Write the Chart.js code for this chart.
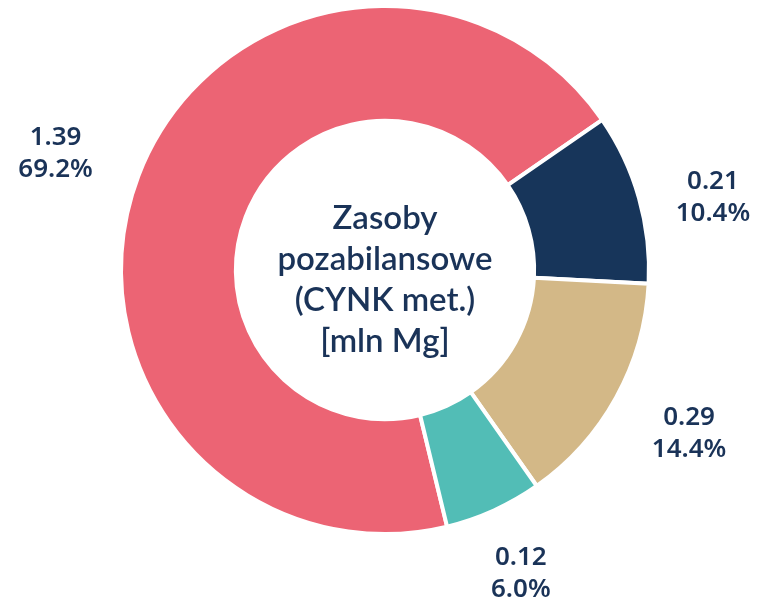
<!DOCTYPE html>
<html>
<head>
<meta charset="utf-8">
<script src="https://cdn.jsdelivr.net/npm/chart.js@4/dist/chart.umd.min.js"></script>
<style>
  html, body { margin: 0; padding: 0; background: #fff; }
  #wrap { width: 759px; height: 599px; position: relative; }
  .fontwarm { font-family: "Noto Sans"; font-weight: 600; position: absolute; left: -999px; }
</style>
</head>
<body>
<span class="fontwarm">0.12 6.0%</span>
<div id="wrap"><canvas id="chart_zinc"></canvas></div>
<script>
var categories = ["kat1", "kat2", "kat3", "kat4"];
var values = [1.39, 0.21, 0.29, 0.12];
var percentLabels = ["69.2%", "10.4%", "14.4%", "6.0%"];
var colors = ["#ec6474", "#17355a", "#d3b887", "#52bdb6"];
var centerLines = ["Zasoby", "pozabilansowe", "(CYNK met.)", "[mln Mg]"];

var textColor = "#1a3358";

// labels outside each slice + title in the hole
var outsideLabels = {
    id: "outsideLabels",
    afterDatasetsDraw: function(chart){
        var ctx = chart.ctx;
        var meta = chart.getDatasetMeta(0);
        var nudgeY = [6, 21, -3, -10]; // navy label was pushed down a bit in the original
        var nudgeX = [-8, -3, 3, -6];
        ctx.save();
        ctx.fillStyle = textColor;
        ctx.textAlign = "center";
        ctx.textBaseline = "middle";
        ctx.font = '600 26px "Noto Sans", sans-serif';
        meta.data.forEach(function(arc, i){
            var mid = (arc.startAngle + arc.endAngle) / 2;
            var r = arc.outerRadius + 80;
            var x = arc.x + Math.cos(mid) * r + nudgeX[i];
            var y = arc.y + Math.sin(mid) * r + nudgeY[i];
            ctx.fillText(values[i].toFixed(2), x, y - 16);
            ctx.fillText(percentLabels[i], x, y + 16);
        });
        var c = meta.data[0];
        ctx.font = "600 33px Lato";
        var start = c.y - 1.5 * 41;
        centerLines.forEach(function(t, i){
            ctx.fillText(t, c.x, start + i * 41 + 10);
        });
        ctx.restore();
    }
};

function drawChart(){
    var config = {
        type: 'doughnut',
        data: {
            labels: categories,
            datasets: [{
                data: values,
                backgroundColor: colors,
                borderColor: '#ffffff',
                borderWidth: 4
            }]
        },
        options: {
            responsive: true,
            maintainAspectRatio: false,
            animation: false,
            rotation: 166.4,
            cutout: '56.5%',
            layout: { padding: { left: 119, right: 108, top: 4, bottom: 63 } },
            plugins: {
                legend: { display: false },
                tooltip: { enabled: false }
            }
        },
        plugins: [outsideLabels]
    };
    new Chart(document.getElementById("chart_zinc").getContext("2d"), config);
}

document.fonts.load('600 26px "Noto Sans"').then(drawChart, drawChart);
</script>
</body>
</html>
